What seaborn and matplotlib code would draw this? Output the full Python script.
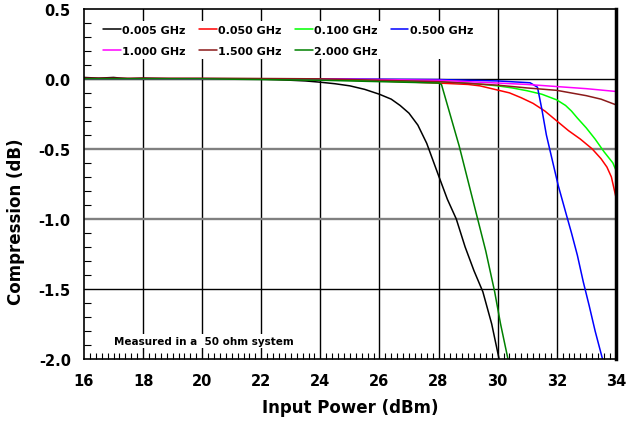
import numpy as np
import pandas as pd
import matplotlib
matplotlib.use("Agg")
import matplotlib.pyplot as plt
from matplotlib.ticker import MultipleLocator
import seaborn as sns

# ---- data ----
x_0005 = [16, 16.5, 17, 17.5, 18, 19, 20, 21, 22, 22.5, 23, 23.5, 24, 24.5, 25, 25.5, 26, 26.4, 26.7, 27.0,
          27.3, 27.6, 28.0, 28.3, 28.6, 28.9, 29.2, 29.5, 29.8, 30.05]
y_0005 = [0.01, 0.005, 0.01, 0.0, 0.005, 0.0, 0.0, 0.0, -0.002, -0.005, -0.01, -0.015, -0.024, -0.035, -0.05,
          -0.075, -0.11, -0.145, -0.19, -0.245, -0.33, -0.46, -0.69, -0.86, -1.0, -1.2, -1.37, -1.52, -1.75, -2.0]

x_0050 = [16, 20, 24, 26, 28, 29.0, 29.4, 30.0, 30.4, 30.8, 31.2, 31.6, 32.0, 32.4, 32.8, 33.2, 33.5, 33.7, 33.85, 34.0]
y_0050 = [0.0, 0.0, -0.005, -0.015, -0.03, -0.04, -0.05, -0.08, -0.1, -0.135, -0.175, -0.23, -0.3, -0.37, -0.43,
          -0.5, -0.57, -0.63, -0.7, -0.84]

x_0100 = [16, 20, 24, 28, 29, 30, 30.5, 31, 31.5, 32, 32.3, 32.5, 32.7, 33.0, 33.3, 33.6, 33.9, 34.0]
y_0100 = [0.0, 0.0, -0.005, -0.02, -0.03, -0.05, -0.065, -0.085, -0.11, -0.15, -0.19, -0.23, -0.28, -0.35, -0.43,
          -0.52, -0.6, -0.65]

x_0500 = [16, 20, 24, 28, 30, 31.1, 31.35, 31.5, 31.65, 31.85, 32.05, 32.3, 32.5, 32.7, 32.9, 33.1, 33.3, 33.55]
y_0500 = [0.0, 0.0, 0.0, -0.005, -0.015, -0.028, -0.06, -0.22, -0.40, -0.58, -0.76, -0.95, -1.1, -1.26, -1.45,
          -1.62, -1.8, -2.0]

x_1000 = [16, 20, 24, 28, 30, 31, 32, 33, 34]
y_1000 = [0.0, 0.0, 0.0, -0.01, -0.03, -0.04, -0.055, -0.07, -0.09]

x_1500 = [16, 20, 24, 28, 30, 31, 32, 33, 33.5, 34]
y_1500 = [0.005, 0.005, 0.0, -0.02, -0.045, -0.065, -0.082, -0.12, -0.145, -0.185]

x_2000 = [16, 18, 20, 22, 24, 26, 27, 28.0, 28.1, 28.4, 28.7, 29.0, 29.3, 29.6, 29.9, 30.1, 30.35]
y_2000 = [0.0, 0.0, 0.0, -0.005, -0.01, -0.02, -0.025, -0.03, -0.04, -0.26, -0.48, -0.73, -0.98, -1.23, -1.52,
          -1.75, -2.0]

labels = ["0.005 GHz", "0.050 GHz", "0.100 GHz", "0.500 GHz", "1.000 GHz", "1.500 GHz", "2.000 GHz"]
colors = ["#000000", "#ff0000", "#00ff00", "#0000ff", "#ff00ff", "#8b1a1a", "#008000"]
xs = [x_0005, x_0050, x_0100, x_0500, x_1000, x_1500, x_2000]
ys = [y_0005, y_0050, y_0100, y_0500, y_1000, y_1500, y_2000]

xticks = [16, 18, 20, 22, 24, 26, 28, 30, 32, 34]
yticks = [0.5, 0.0, -0.5, -1.0, -1.5, -2.0]

frames = []
for lab, xv, yv in zip(labels, xs, ys):
    frames.append(pd.DataFrame({"power": xv, "comp": yv, "freq": lab}))
df = pd.concat(frames, ignore_index=True)

# ---- plot ----
sns.set_theme(style="white")
plt.rcParams["font.family"] = ["DejaVu Sans"]
plt.rcParams["axes.unicode_minus"] = False
plt.rcParams["text.color"] = "black"
plt.rcParams["axes.labelcolor"] = "black"
plt.rcParams["xtick.color"] = "black"
plt.rcParams["ytick.color"] = "black"

fig = plt.figure(figsize=(6.29, 4.27), dpi=100)
ax = fig.add_axes([0.1335, 0.157, 0.8455, 0.820])

# grid lines
for xv in xticks[1:-1]:
    ax.axvline(xv, color="black", lw=1.0, zorder=0)
for yv in [0.0, -1.5]:
    ax.axhline(yv, color="black", lw=1.0, zorder=0)
for yv in [-0.5, -1.0]:
    ax.axhline(yv, color="#808080", lw=1.7, zorder=0)

sns.lineplot(data=df, x="power", y="comp", hue="freq", hue_order=labels,
             palette=dict(zip(labels, colors)), sort=False, estimator=None,
             lw=1.1, ax=ax, legend=True)

ax.set_xlim(16, 34)
ax.set_ylim(-2.0, 0.5)
ax.set_xticks(xticks)
ax.set_yticks(yticks)
ax.set_xticklabels([str(v) for v in xticks], fontsize=10.5, fontweight="bold", color="black")
ax.set_yticklabels(["%.1f" % v for v in yticks], fontsize=10.5, fontweight="bold", color="black")
ax.xaxis.set_minor_locator(MultipleLocator(0.2))
ax.yaxis.set_minor_locator(MultipleLocator(0.1))
ax.tick_params(axis="x", which="major", direction="in", length=0, pad=10)
ax.tick_params(axis="y", which="major", direction="in", length=0, pad=9.5)
ax.tick_params(axis="x", which="minor", direction="in", length=4, width=0.8, color="black", bottom=True, top=False)
ax.tick_params(axis="y", which="minor", direction="in", length=5, width=0.8, color="black", left=True, right=False)

ax.set_xlabel("Input Power (dBm)", fontsize=12, fontweight="bold", color="black")
ax.set_ylabel("Compression (dB)", fontsize=12, fontweight="bold", color="black")
ax.xaxis.set_label_coords(0.5, -0.112)
ax.yaxis.set_label_coords(-0.111, 0.394)

for side in ["left", "bottom", "top"]:
    ax.spines[side].set_color("black")
    ax.spines[side].set_linewidth(1.2)
ax.spines["right"].set_color("black")
ax.spines["right"].set_linewidth(2.5)

# legend (row-major order across 4 columns)
handles, labs = ax.get_legend_handles_labels()
hmap = dict(zip(labs, handles))
order = ["0.005 GHz", "1.000 GHz", "0.050 GHz", "1.500 GHz", "0.100 GHz", "2.000 GHz", "0.500 GHz"]
leg = ax.legend([hmap[o] for o in order], order, ncol=4, loc="upper left",
                bbox_to_anchor=(0.02, 0.98), frameon=True, fancybox=False,
                framealpha=1, edgecolor="none", facecolor="white",
                prop={"weight": "bold", "size": 8}, handlelength=1.6,
                handletextpad=0.1, columnspacing=1.2, borderpad=0.3, labelspacing=1.0)
for t in leg.get_texts():
    t.set_color("black")

ax.text(17.0, -1.87, "Measured in a  50 ohm system", fontsize=7.5, fontweight="bold",
        va="center", ha="left", color="black",
        bbox=dict(facecolor="white", edgecolor="none", pad=1.5))

fig.savefig("out.png", dpi=100)
